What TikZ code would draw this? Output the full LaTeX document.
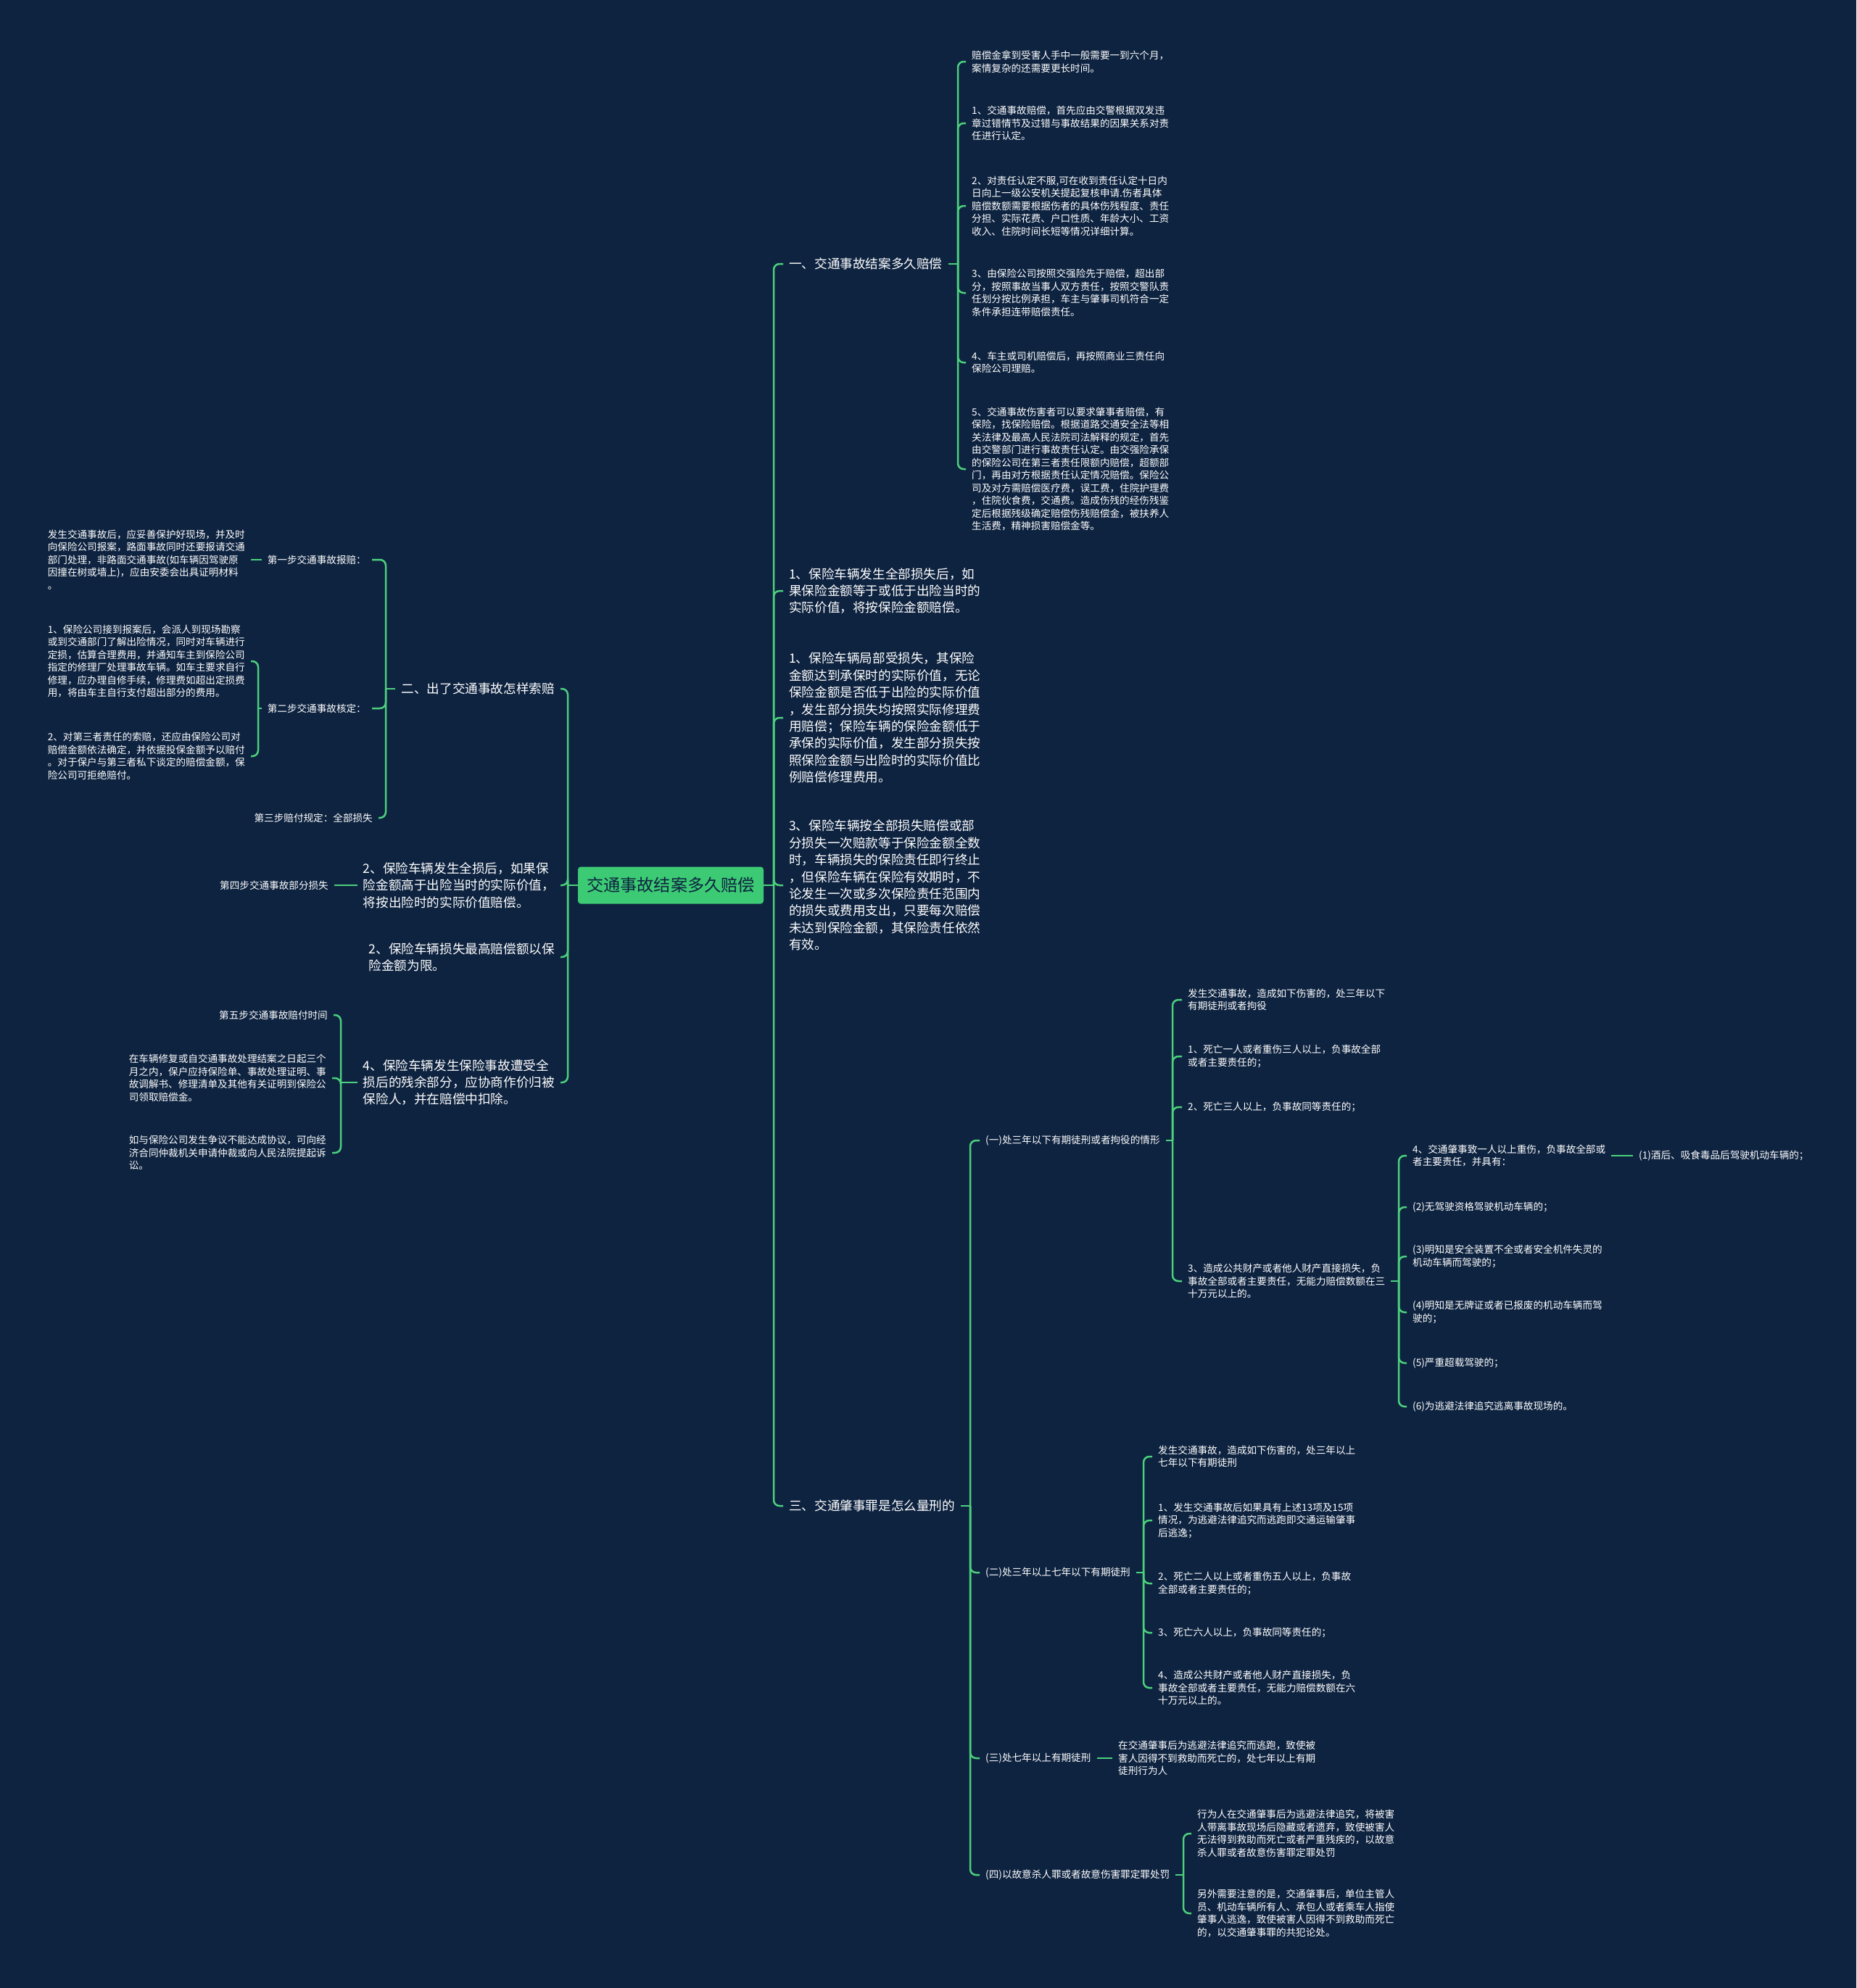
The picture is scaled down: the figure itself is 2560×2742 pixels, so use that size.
\documentclass[tikz,border=0pt]{standalone}
\usepackage{fontspec}
\setmainfont{Noto Sans CJK SC}
\definecolor{bgnavy}{HTML}{0E2340}
\definecolor{lineg}{HTML}{4CD07D}
\definecolor{rootg}{HTML}{3CCB74}
\tikzset{
  link/.style={draw=lineg, line width=2.5pt, rounded corners=8pt},
  root/.style={fill=rootg, rounded corners=4pt, minimum width=256pt, minimum height=51pt, inner sep=0pt, text=bgnavy, font=\fontsize{23.2}{28}\selectfont},
  bigtxt/.style={text=white, align=left, inner xsep=8pt, inner ysep=1pt, font=\fontsize{17.6}{23.4}\selectfont},
  smalltxt/.style={text=white, align=left, inner xsep=8pt, inner ysep=1pt, font=\fontsize{13.6}{17.5}\selectfont},
}
\begin{document}
\begin{tikzpicture}[x=1pt,y=-1pt]
        % Background
        \fill[bgnavy] (0,0) rectangle (2560,2742);
        \useasboundingbox (0,0) rectangle (2560,2742);
        % Centre
        \node[root] (root) at (925,1221) {交通事故结案多久赔偿};
        % Right side, first level
        \node[bigtxt, anchor=west] (r1) at (1080,364) {一、交通事故结案多久赔偿};
        \node[bigtxt, anchor=west] (r2) at (1080,815) {1、保险车辆发生全部损失后，如\\果保险金额等于或低于出险当时的\\实际价值，将按保险金额赔偿。};
        \node[bigtxt, anchor=west] (r3) at (1080,990) {1、保险车辆局部受损失，其保险\\金额达到承保时的实际价值，无论\\保险金额是否低于出险的实际价值\\，发生部分损失均按照实际修理费\\用赔偿；保险车辆的保险金额低于\\承保的实际价值，发生部分损失按\\照保险金额与出险时的实际价值比\\例赔偿修理费用。};
        \node[bigtxt, anchor=west] (r4) at (1080,1221) {3、保险车辆按全部损失赔偿或部\\分损失一次赔款等于保险金额全数\\时，车辆损失的保险责任即行终止\\，但保险车辆在保险有效期时，不\\论发生一次或多次保险责任范围内\\的损失或费用支出，只要每次赔偿\\未达到保险金额，其保险责任依然\\有效。};
        \node[bigtxt, anchor=west] (r5) at (1080,2077) {三、交通肇事罪是怎么量刑的};
        \coordinate (jr) at (1067,1221);
        \draw[link] (root.east) -- (jr);
        \foreach \n in {r1,r2,r3,r4,r5} {
            \draw[link] (jr) |- (\n.west);
        }
        % Left side, first level
        \node[bigtxt, anchor=east] (l1) at (773,950) {二、出了交通事故怎样索赔};
        \node[bigtxt, anchor=east] (l2) at (773,1221) {2、保险车辆发生全损后，如果保\\险金额高于出险当时的实际价值，\\将按出险时的实际价值赔偿。};
        \node[bigtxt, anchor=east] (l3) at (773,1320) {2、保险车辆损失最高赔偿额以保\\险金额为限。};
        \node[bigtxt, anchor=east] (l4) at (773,1493) {4、保险车辆发生保险事故遭受全\\损后的残余部分，应协商作价归被\\保险人，并在赔偿中扣除。};
        \coordinate (jl) at (783,1221);
        \draw[link] (root.west) -- (jl);
        \foreach \n in {l1,l2,l3,l4} {
            \draw[link] (jl) |- (\n.east);
        }
        % How long until payment
        \node[smalltxt, anchor=west] (a1) at (1332,85) {赔偿金拿到受害人手中一般需要一到六个月，\\案情复杂的还需要更长时间。};
        \node[smalltxt, anchor=west] (a2) at (1332,170) {1、交通事故赔偿，首先应由交警根据双发违\\章过错情节及过错与事故结果的因果关系对责\\任进行认定。};
        \node[smalltxt, anchor=west] (a3) at (1332,284) {2、对责任认定不服,可在收到责任认定十日内\\日向上一级公安机关提起复核申请.伤者具体\\赔偿数额需要根据伤者的具体伤残程度、责任\\分担、实际花费、户口性质、年龄大小、工资\\收入、住院时间长短等情况详细计算。};
        \node[smalltxt, anchor=west] (a4) at (1332,404) {3、由保险公司按照交强险先于赔偿，超出部\\分，按照事故当事人双方责任，按照交警队责\\任划分按比例承担，车主与肇事司机符合一定\\条件承担连带赔偿责任。};
        \node[smalltxt, anchor=west] (a5) at (1332,500) {4、车主或司机赔偿后，再按照商业三责任向\\保险公司理赔。};
        \node[smalltxt, anchor=west] (a6) at (1332,647) {5、交通事故伤害者可以要求肇事者赔偿，有\\保险，找保险赔偿。根据道路交通安全法等相\\关法律及最高人民法院司法解释的规定，首先\\由交警部门进行事故责任认定。由交强险承保\\的保险公司在第三者责任限额内赔偿，超额部\\门，再由对方根据责任认定情况赔偿。保险公\\司及对方需赔偿医疗费，误工费，住院护理费\\，住院伙食费，交通费。造成伤残的经伤残鉴\\定后根据残级确定赔偿伤残赔偿金，被扶养人\\生活费，精神损害赔偿金等。};
        \coordinate (j1) at (1321,364);
        \draw[link] (r1.east) -- (j1);
        \foreach \n in {a1,a2,a3,a4,a5,a6} {
            \draw[link] (j1) |- (\n.west);
        }
        % Claim steps
        \node[smalltxt, anchor=east] (b1) at (513,772) {第一步交通事故报赔：};
        \node[smalltxt, anchor=east] (b2) at (513,977) {第二步交通事故核定：};
        \node[smalltxt, anchor=east] (b3) at (522,1128) {第三步赔付规定：全部损失};
        \coordinate (j2) at (532,950);
        \draw[link] (l1.west) -- (j2);
        \foreach \n in {b1,b2,b3} {
            \draw[link] (j2) |- (\n.east);
        }
        \node[smalltxt, anchor=east] (c1) at (346,772) {发生交通事故后，应妥善保护好现场，并及时\\向保险公司报案，路面事故同时还要报请交通\\部门处理，非路面交通事故(如车辆因驾驶原\\因撞在树或墙上)，应由安委会出具证明材料\\。};
        \draw[link] (b1.west) -- (c1.east);
        \node[smalltxt, anchor=east] (c2) at (346,912) {1、保险公司接到报案后，会派人到现场勘察\\或到交通部门了解出险情况，同时对车辆进行\\定损，估算合理费用，并通知车主到保险公司\\指定的修理厂处理事故车辆。如车主要求自行\\修理，应办理自修手续，修理费如超出定损费\\用，将由车主自行支付超出部分的费用。};
        \node[smalltxt, anchor=east] (c3) at (346,1043) {2、对第三者责任的索赔，还应由保险公司对\\赔偿金额依法确定，并依据投保金额予以赔付\\。对于保户与第三者私下谈定的赔偿金额，保\\险公司可拒绝赔付。};
        \coordinate (j3) at (356,977);
        \draw[link] (b2.west) -- (j3);
        \foreach \n in {c2,c3} {
            \draw[link] (j3) |- (\n.east);
        }
        % Steps four and five
        \node[smalltxt, anchor=east] (b4) at (461,1221) {第四步交通事故部分损失};
        \draw[link] (l2.west) -- (b4.east);
        \node[smalltxt, anchor=east] (b5) at (460,1400) {第五步交通事故赔付时间};
        \node[smalltxt, anchor=east] (b6) at (458,1487) {在车辆修复或自交通事故处理结案之日起三个\\月之内，保户应持保险单、事故处理证明、事\\故调解书、修理清单及其他有关证明到保险公\\司领取赔偿金。};
        \node[smalltxt, anchor=east] (b7) at (458,1590) {如与保险公司发生争议不能达成协议，可向经\\济合同仲裁机关申请仲裁或向人民法院提起诉\\讼。};
        \coordinate (j4) at (470,1493);
        \draw[link] (l4.west) -- (j4);
        \foreach \n in {b5,b6,b7} {
            \draw[link] (j4) |- (\n.east);
        }
        % Sentencing
        \node[smalltxt, anchor=west] (t1) at (1351,1573) {(一)处三年以下有期徒刑或者拘役的情形};
        \node[smalltxt, anchor=west] (t2) at (1351,2169) {(二)处三年以上七年以下有期徒刑};
        \node[smalltxt, anchor=west] (t3) at (1351,2425) {(三)处七年以上有期徒刑};
        \node[smalltxt, anchor=west] (t4) at (1351,2586) {(四)以故意杀人罪或者故意伤害罪定罪处罚};
        \coordinate (j5) at (1338,2077);
        \draw[link] (r5.east) -- (j5);
        \foreach \n in {t1,t2,t3,t4} {
            \draw[link] (j5) |- (\n.west);
        }
        % (一)
        \node[smalltxt, anchor=west] (s1) at (1630,1379) {发生交通事故，造成如下伤害的，处三年以下\\有期徒刑或者拘役};
        \node[smalltxt, anchor=west] (s2) at (1630,1457) {1、死亡一人或者重伤三人以上，负事故全部\\或者主要责任的；};
        \node[smalltxt, anchor=west] (s3) at (1630,1527) {2、死亡三人以上，负事故同等责任的；};
        \node[smalltxt, anchor=west] (s4) at (1630,1767) {3、造成公共财产或者他人财产直接损失，负\\事故全部或者主要责任，无能力赔偿数额在三\\十万元以上的。};
        \coordinate (j6) at (1617,1573);
        \draw[link] (t1.east) -- (j6);
        \foreach \n in {s1,s2,s3,s4} {
            \draw[link] (j6) |- (\n.west);
        }
        \node[smalltxt, anchor=west] (u1) at (1940,1594) {4、交通肇事致一人以上重伤，负事故全部或\\者主要责任，并具有：};
        \node[smalltxt, anchor=west] (u2) at (1940,1665) {(2)无驾驶资格驾驶机动车辆的；};
        \node[smalltxt, anchor=west] (u3) at (1940,1733) {(3)明知是安全装置不全或者安全机件失灵的\\机动车辆而驾驶的；};
        \node[smalltxt, anchor=west] (u4) at (1940,1810) {(4)明知是无牌证或者已报废的机动车辆而驾\\驶的；};
        \node[smalltxt, anchor=west] (u5) at (1940,1880) {(5)严重超载驾驶的；};
        \node[smalltxt, anchor=west] (u6) at (1940,1940) {(6)为逃避法律追究逃离事故现场的。};
        \coordinate (j7) at (1929,1767);
        \draw[link] (s4.east) -- (j7);
        \foreach \n in {u1,u2,u3,u4,u5,u6} {
            \draw[link] (j7) |- (\n.west);
        }
        \node[smalltxt, anchor=west] (v1) at (2252,1594) {(1)酒后、吸食毒品后驾驶机动车辆的；};
        \draw[link] (u1.east) -- (v1.west);
        % (二)
        \node[smalltxt, anchor=west] (w1) at (1589,2009) {发生交通事故，造成如下伤害的，处三年以上\\七年以下有期徒刑};
        \node[smalltxt, anchor=west] (w2) at (1589,2097) {1、发生交通事故后如果具有上述13项及15项\\情况，为逃避法律追究而逃跑即交通运输肇事\\后逃逸；};
        \node[smalltxt, anchor=west] (w3) at (1589,2184) {2、死亡二人以上或者重伤五人以上，负事故\\全部或者主要责任的；};
        \node[smalltxt, anchor=west] (w4) at (1589,2252) {3、死亡六人以上，负事故同等责任的；};
        \node[smalltxt, anchor=west] (w5) at (1589,2328) {4、造成公共财产或者他人财产直接损失，负\\事故全部或者主要责任，无能力赔偿数额在六\\十万元以上的。};
        \coordinate (j8) at (1577,2169);
        \draw[link] (t2.east) -- (j8);
        \foreach \n in {w1,w2,w3,w4,w5} {
            \draw[link] (j8) |- (\n.west);
        }
        % (三)
        \node[smalltxt, anchor=west] (x1) at (1534,2425) {在交通肇事后为逃避法律追究而逃跑，致使被\\害人因得不到救助而死亡的，处七年以上有期\\徒刑行为人};
        \draw[link] (t3.east) -- (x1.west);
        % (四)
        \node[smalltxt, anchor=west] (y1) at (1643,2529) {行为人在交通肇事后为逃避法律追究，将被害\\人带离事故现场后隐藏或者遗弃，致使被害人\\无法得到救助而死亡或者严重残疾的，以故意\\杀人罪或者故意伤害罪定罪处罚};
        \node[smalltxt, anchor=west] (y2) at (1643,2639) {另外需要注意的是，交通肇事后，单位主管人\\员、机动车辆所有人、承包人或者乘车人指使\\肇事人逃逸，致使被害人因得不到救助而死亡\\的，以交通肇事罪的共犯论处。};
        \coordinate (j9) at (1632,2586);
        \draw[link] (t4.east) -- (j9);
        \foreach \n in {y1,y2} {
            \draw[link] (j9) |- (\n.west);
        }
\end{tikzpicture}
\end{document}
